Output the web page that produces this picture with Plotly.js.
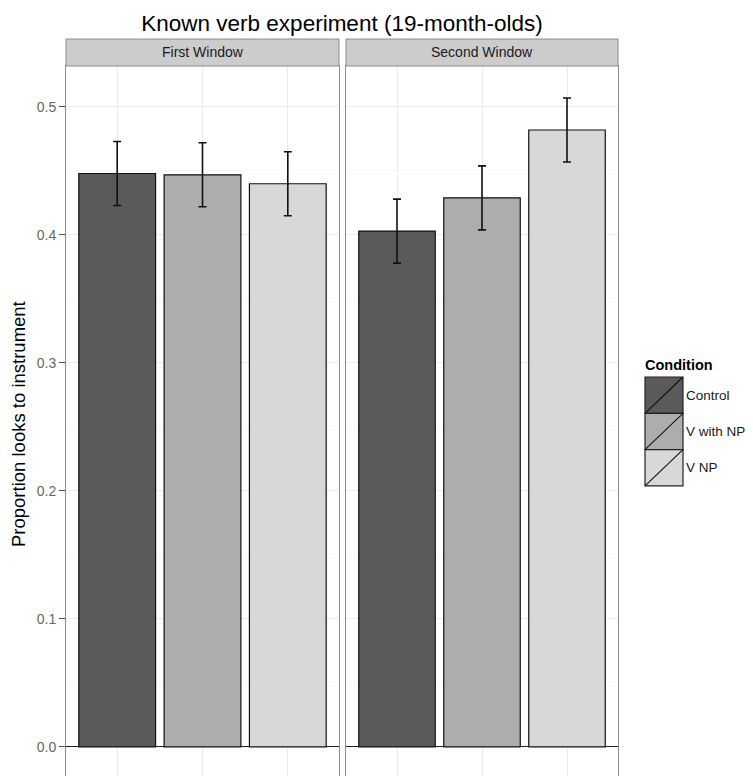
<!DOCTYPE html>
<html>
<head>
<meta charset="utf-8">
<script src="https://cdn.plot.ly/plotly-3.0.1.min.js"></script>
<style>html,body{margin:0;padding:0;background:#fff;}#chart{width:753px;height:776px;}</style>
</head>
<body>
<div id="chart"></div>
<script>
const conditions = ["Control", "V with NP", "V NP"];
const facets = ["First Window", "Second Window"];
const firstWindow = [0.448, 0.447, 0.440];
const secondWindow = [0.403, 0.429, 0.482];
const firstSE = [0.025, 0.025, 0.025];
const secondSE = [0.025, 0.025, 0.025];
const fills = ["#5a5a5a", "#adadad", "#d8d8d8"];

const W = 753, H = 776;
const px = v => v / W;
const py = v => 1 - v / H;
const FONT = "Liberation Sans, Arial, Helvetica, sans-serif";

const panelX = [[66, 339], [346, 618]];
const plotTop = 66, stripTop = 39;

const series = [firstWindow, secondWindow];
const ses = [firstSE, secondSE];

const traces = series.map((vals, i) => ({
  type: "bar",
  x: conditions,
  y: vals,
  xaxis: i === 0 ? "x" : "x2",
  yaxis: i === 0 ? "y" : "y2",
  width: 0.9,
  marker: {color: fills, line: {color: "#111111", width: 1.2}},
  error_y: {type: "data", array: ses[i], visible: true, color: "#111111", thickness: 1.6, width: 4},
  showlegend: false,
  hoverinfo: "x+y"
}));

const yRange = [-0.0227, 0.532];
const baseY = {
  range: yRange,
  domain: [0, py(plotTop)],
  dtick: 0.1,
  tick0: 0,
  tickformat: ".1f",
  showgrid: true,
  gridcolor: "#ebebeb",
  gridwidth: 1,
  minor: {dtick: 0.05, showgrid: true, gridcolor: "#f7f7f7", gridwidth: 1},
  zeroline: true,
  zerolinecolor: "#222222",
  zerolinewidth: 1,
  showline: true,
  linecolor: "#8c8c8c",
  linewidth: 1,
  mirror: true,
  ticks: "outside",
  ticklen: 6,
  tickcolor: "#555555",
  tickfont: {family: FONT, size: 14, color: "#666666"},
  automargin: false,
  fixedrange: true
};
const baseX = {
  type: "category",
  range: [-0.6, 2.6],
  showgrid: true,
  gridcolor: "#ebebeb",
  showticklabels: false,
  ticks: "",
  showline: true,
  linecolor: "#8c8c8c",
  linewidth: 1,
  mirror: true,
  zeroline: false,
  automargin: false,
  fixedrange: true
};

const shapes = [];
const annotations = [];

// facet strips
facets.forEach((f, i) => {
  shapes.push({type: "rect", xref: "paper", yref: "paper",
    x0: px(panelX[i][0]), x1: px(panelX[i][1]), y0: py(plotTop), y1: py(stripTop),
    fillcolor: "#cccccc", line: {color: "#8c8c8c", width: 1}, layer: "above"});
  annotations.push({xref: "paper", yref: "paper",
    x: px((panelX[i][0] + panelX[i][1]) / 2), y: py((plotTop + stripTop) / 2),
    text: f, showarrow: false, xanchor: "center", yanchor: "middle",
    font: {family: FONT, size: 14, color: "#1a1a1a"}});
});

// y-axis title
annotations.push({xref: "paper", yref: "paper", x: px(19), y: py(424),
  text: "Proportion looks to instrument", showarrow: false, textangle: -90,
  xanchor: "center", yanchor: "middle",
  font: {family: FONT, size: 18.5, color: "#000"}});

// legend (drawn manually, ggplot style)
const legX0 = 645, legX1 = 683, legY0 = 377, keyH = 36.3;
annotations.push({xref: "paper", yref: "paper", x: px(legX0 - 2), y: py(365),
  text: "<b>Condition</b>", showarrow: false, xanchor: "left", yanchor: "middle",
  font: {family: FONT, size: 14.5, color: "#000"}});
conditions.forEach((c, i) => {
  const t = legY0 + i * keyH, b = t + keyH;
  shapes.push({type: "rect", xref: "paper", yref: "paper",
    x0: px(legX0), x1: px(legX1), y0: py(b), y1: py(t),
    fillcolor: fills[i], line: {color: "#222222", width: 1.2}});
  shapes.push({type: "line", xref: "paper", yref: "paper",
    x0: px(legX0), x1: px(legX1), y0: py(b), y1: py(t),
    line: {color: "#111111", width: 1.1}});
  annotations.push({xref: "paper", yref: "paper", x: px(legX1 + 1), y: py((t + b) / 2),
    text: c, showarrow: false, xanchor: "left", yanchor: "middle",
    font: {family: FONT, size: 13.5, color: "#1a1a1a"}});
});

const layout = {
  width: W, height: H,
  margin: {l: 0, r: 0, t: 0, b: 0},
  paper_bgcolor: "#ffffff",
  plot_bgcolor: "#ffffff",
  bargap: 0.1,
  title: {text: "Known verb experiment (19-month-olds)", x: px(342), xanchor: "center",
    y: py(23), yanchor: "middle",
    font: {family: FONT, size: 22.5, color: "#000"}},
  xaxis: Object.assign({}, baseX, {domain: [px(panelX[0][0]), px(panelX[0][1])], anchor: "y"}),
  xaxis2: Object.assign({}, baseX, {domain: [px(panelX[1][0]), px(panelX[1][1])], anchor: "y2"}),
  yaxis: Object.assign({}, baseY, {anchor: "x"}),
  yaxis2: Object.assign({}, baseY, {anchor: "x2", showticklabels: false, ticks: "", matches: "y"}),
  shapes: shapes,
  annotations: annotations,
  showlegend: false
};

Plotly.newPlot("chart", traces, layout, {displayModeBar: false, staticPlot: true});
</script>
</body>
</html>
